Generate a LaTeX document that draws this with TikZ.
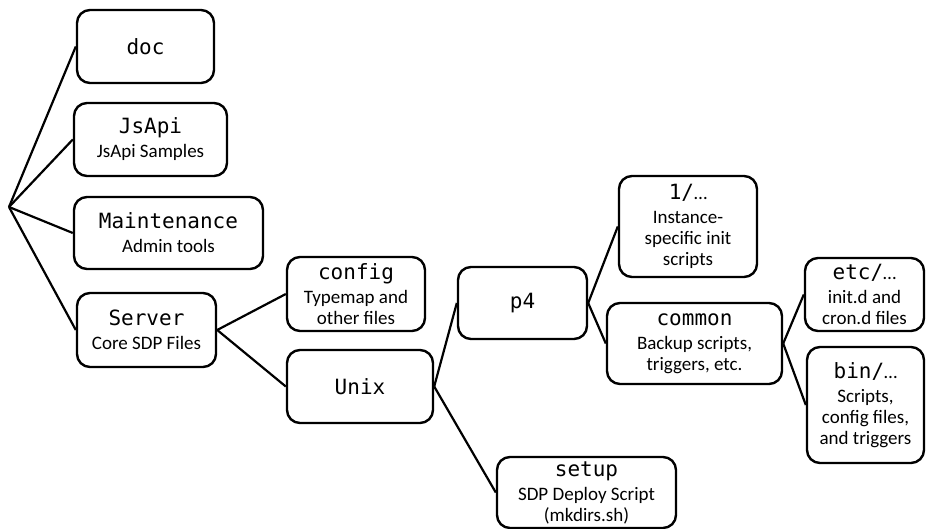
\documentclass[tikz,border=0pt]{standalone}
\usepackage{fontspec}
\setmainfont{Carlito}
\newfontfamily\monofont{DejaVu Sans Mono}
\newcommand{\dirname}[1]{{\monofont\fontsize{21}{22}\selectfont #1}}

\begin{document}
\begin{tikzpicture}[x=1pt, y=-1pt,
		dir/.style={draw, line width=2.4pt, rounded corners=13pt, align=center, inner sep=0pt,
			font=\fontsize{19}{21}\selectfont},
		link/.style={line width=2.2pt}]
			\useasboundingbox (0,0) rectangle (926,529);
			\coordinate (root) at (9,207);
			\node [dir, minimum width=137pt, minimum height=73pt] (doc) at (145.5,46.5) {\dirname{doc}};
			\node [dir, minimum width=153pt, minimum height=73pt] (jsapi) at (150.5,139.5) {\dirname{JsApi}\\[3pt]JsApi Samples};
			\node [dir, minimum width=189pt, minimum height=72pt] (maint) at (168.5,233) {\dirname{Maintenance}\\[3pt]Admin tools};
			\node [dir, minimum width=139pt, minimum height=74pt] (server) at (146.5,330) {\dirname{Server}\\[3pt]Core SDP Files};
			\node [dir, minimum width=138pt, minimum height=74pt] (config) at (356,294) {\dirname{config}\\[3pt]Typemap and\\other files};
			\node [dir, minimum width=146pt, minimum height=73pt] (unix) at (360,386.5) {\dirname{Unix}};
			\node [dir, minimum width=129pt, minimum height=72pt] (p4) at (522.5,303) {\dirname{p4}};
			\node [dir, minimum width=179pt, minimum height=71pt] (setup) at (586.5,492.5) {\dirname{setup}\\[3pt]SDP Deploy Script\\(mkdirs.sh)};
			\node [dir, minimum width=138pt, minimum height=101pt] (inst) at (688,226.5) {\dirname{1/}…\\[3pt]Instance-\\specific init\\scripts};
			\node [dir, minimum width=175pt, minimum height=81pt] (common) at (694.5,343.5) {\dirname{common}\\[3pt]Backup scripts,\\triggers, etc.};
			\node [dir, minimum width=119pt, minimum height=73pt] (etc) at (864.5,294.5) {\dirname{etc/}…\\[3pt]init.d and\\cron.d files};
			\node [dir, minimum width=117pt, minimum height=116pt] (bin) at (865.5,405) {\dirname{bin/}…\\[3pt]Scripts,\\config files,\\and triggers};
			\draw [link] (root) -- (doc.west);
			\draw [link] (root) -- (jsapi.west);
			\draw [link] (root) -- (maint.west);
			\draw [link] (root) -- (server.west);
			\draw [link] (server.east) -- (config.west);
			\draw [link] (server.east) -- (unix.west);
			\draw [link] (unix.east) -- (p4.west);
			\draw [link] (unix.east) -- (setup.west);
			\draw [link] (p4.east) -- (inst.west);
			\draw [link] (p4.east) -- (common.west);
			\draw [link] (common.east) -- (etc.west);
			\draw [link] (common.east) -- (bin.west);
		\end{tikzpicture}
\end{document}
